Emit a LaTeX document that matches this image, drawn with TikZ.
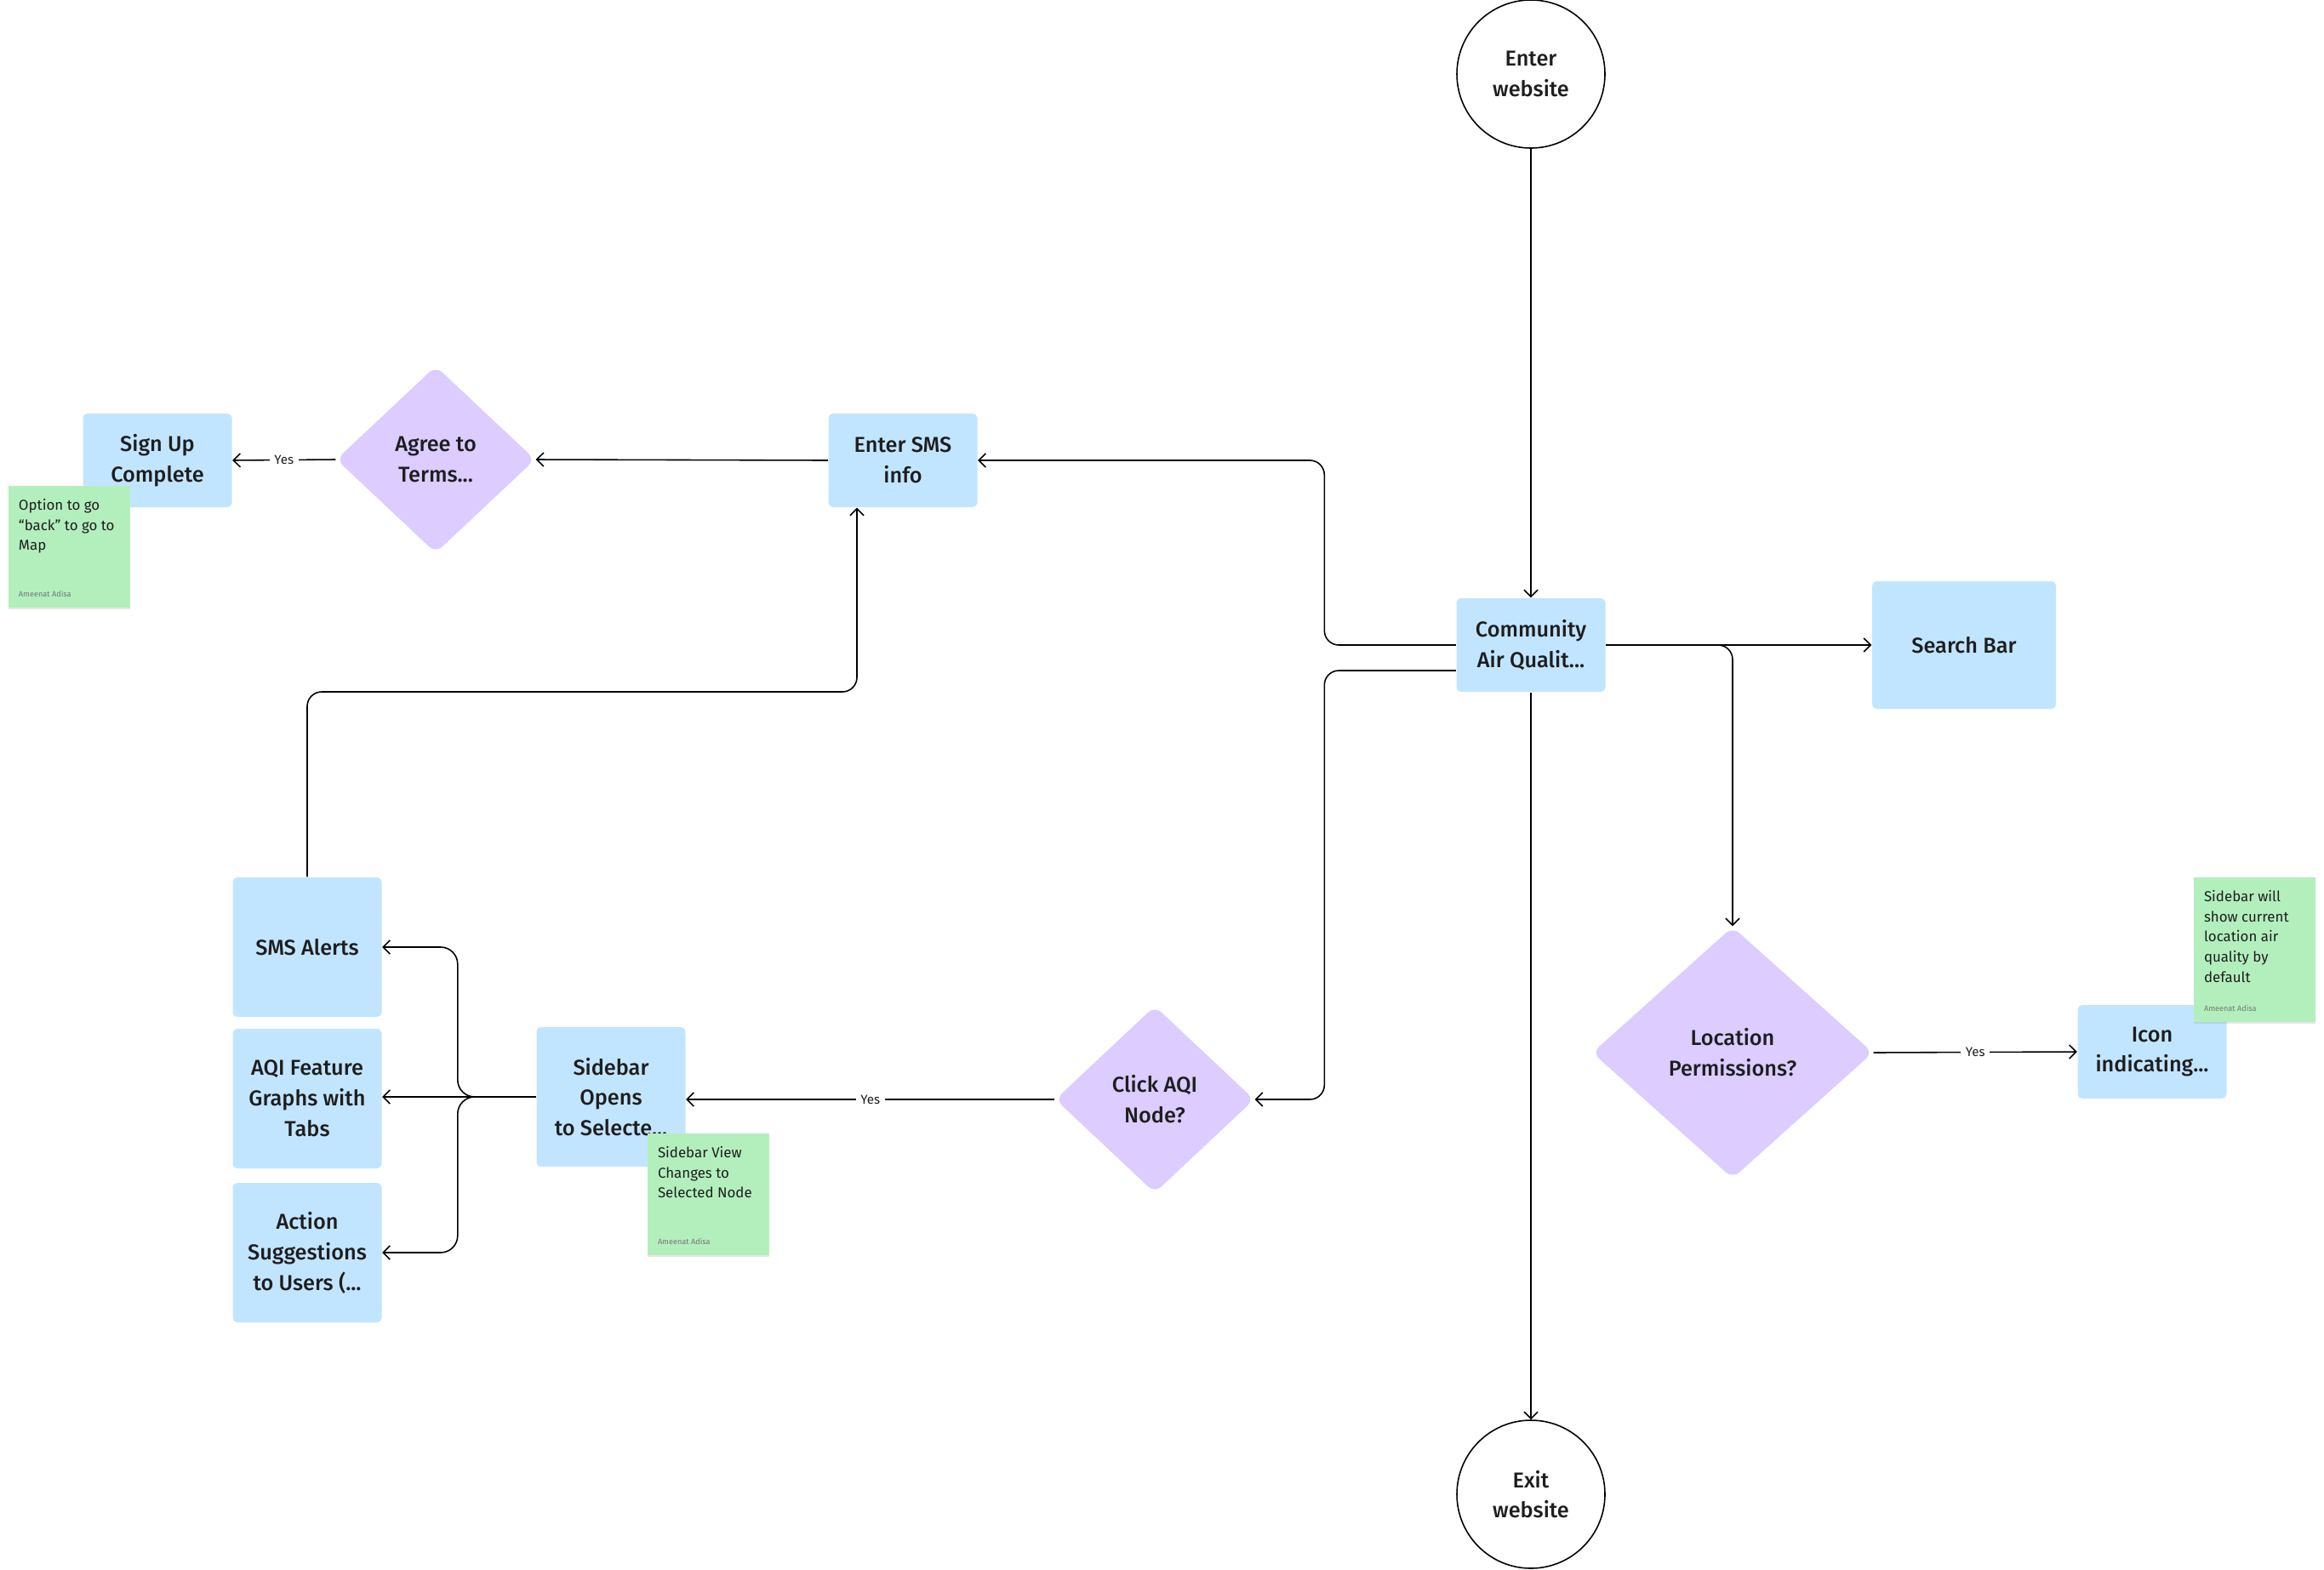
\documentclass[tikz,border=0pt]{standalone}
\usepackage{fontspec}
\setmainfont{Fira Sans}[BoldFont={Fira Sans Medium}]
\usetikzlibrary{shapes.geometric, arrows.meta, positioning, shadows}

\definecolor{boxblue}{HTML}{C2E5FF}
\definecolor{decpurple}{HTML}{DCCCFF}
\definecolor{stickygreen}{HTML}{B3EFBD}
\definecolor{inktext}{HTML}{1E1E1E}
\definecolor{authorgrey}{HTML}{757575}

\newcommand{\flowfont}{\fontsize{7.2}{10.2}\selectfont\bfseries}
\newcommand{\notefont}{\fontsize{4.8}{6.8}\selectfont}
\newcommand{\notebyfont}{\fontsize{2.6}{3}\selectfont}
\newcommand{\yesfont}{\fontsize{4.3}{5}\selectfont}

\tikzset{
	screen/.style={rectangle, rounded corners=1.5pt, fill=boxblue, inner sep=0pt,
		minimum width=1.75cm, minimum height=1.10cm, align=center, font=\flowfont, text=inktext},
	decision/.style={diamond, rounded corners=3pt, fill=decpurple, inner sep=0pt,
		align=center, font=\flowfont, text=inktext},
	terminal/.style={circle, draw=black, line width=0.45pt, fill=white, minimum size=1.74cm,
		inner sep=0pt, align=center, font=\flowfont, text=inktext},
	sticky/.style={rectangle, fill=stickygreen, inner sep=0pt, minimum width=1.43cm,
		minimum height=1.43cm, drop shadow={shadow xshift=0pt, shadow yshift=-0.7pt, opacity=0.2}},
	stickytext/.style={anchor=north west, inner sep=0pt, align=left, font=\notefont, text=inktext},
	stickyby/.style={anchor=base west, inner sep=0pt, font=\notebyfont, text=authorgrey},
	conn/.style={line width=0.45pt, -{Straight Barb[length=0.8mm, width=1.6mm]}},
	yeslabel/.style={midway, fill=white, inner sep=1.6pt, font=\yesfont, text=inktext}
}

\begin{document}
\begin{tikzpicture}
		\useasboundingbox (0,0) rectangle (27.31,-18.44);

		% Start / end
		\node[terminal] (enterweb) at (17.99,-0.87) {Enter\\website};
		\node[terminal] (exitweb) at (17.99,-17.56) {Exit\\website};

		% Screens
		\node[screen] (community) at (17.99,-7.58) {Community\\Air Qualit...};
		\node[screen, minimum width=2.16cm, minimum height=1.50cm] (searchbar) at (23.08,-7.58) {Search Bar};
		\node[screen] (entersms) at (10.61,-5.41) {Enter SMS\\info};
		\node[screen] (signup) at (1.85,-5.41) {Sign Up\\Complete};
		\node[screen, minimum height=1.64cm] (smsalerts) at (3.61,-11.13) {SMS Alerts};
		\node[screen, minimum height=1.64cm] (aqigraphs) at (3.61,-12.91) {AQI Feature\\Graphs with\\Tabs};
		\node[screen, minimum height=1.64cm] (actions) at (3.61,-14.72) {Action\\Suggestions\\to Users (...};
		\node[screen, minimum height=1.64cm] (sidebar) at (7.18,-12.89) {Sidebar\\Opens\\to Selecte...};
		\node[screen] (iconind) at (25.29,-12.36) {Icon\\indicating...};

		% Decisions
		\node[decision, minimum width=2.34cm, minimum height=2.20cm] (agreeterms) at (5.12,-5.40) {Agree to\\Terms...};
		\node[decision, minimum width=2.34cm, minimum height=2.20cm] (clickaqi) at (13.57,-12.92) {Click AQI\\Node?};
		\node[decision, minimum width=3.30cm, minimum height=2.96cm] (locperm) at (20.36,-12.37) {Location\\Permissions?};

		% Connectors
		\draw[conn] (enterweb) -- (community);
		\draw[conn] (community) -- (exitweb);
		\draw[conn] (community.east) -- (searchbar.west);
		\draw[conn, rounded corners=0.17cm] (community.east) -| (locperm.north);
		\draw[conn, rounded corners=0.17cm] (community.west) -- ++(-1.545,0) |- (entersms.east);
		\draw[conn, rounded corners=0.17cm] ([yshift=-0.30cm]community.west) -- ++(-1.545,0) |- (clickaqi.east);
		\draw[conn] (entersms.west) -- (agreeterms.east);
		\draw[conn] (agreeterms.west) -- (signup.east) node[yeslabel] (yessignup) {Yes};
		\draw[conn] (clickaqi.west) -- (clickaqi.west -| sidebar.east) node[yeslabel] (yessidebar) {Yes};
		\draw[conn] (locperm.east) -- (iconind.west) node[yeslabel] (yesicon) {Yes};
		\draw[conn, rounded corners=0.2cm] (sidebar.west) -- ++(-0.92,0) |- (smsalerts.east);
		\draw[conn] (sidebar.west) -- (sidebar.west -| aqigraphs.east);
		\draw[conn, rounded corners=0.2cm] (sidebar.west) -- ++(-0.92,0) |- (actions.east);
		\draw[conn, rounded corners=0.17cm] (smsalerts.north) |- (10.07,-8.13) -- ([xshift=-0.54cm]entersms.south);

		% Sticky notes
		\node[sticky] (notemap) at (0.815,-6.425) {};
		\node[stickytext] (notemaptext) at ([xshift=0.12cm, yshift=-0.15cm]notemap.north west) {Option to go\\“back” to go to\\Map};
		\node[stickyby] (notemapby) at ([xshift=0.12cm, yshift=0.13cm]notemap.south west) {Ameenat Adisa};

		\node[sticky] (noteselect) at (8.325,-14.035) {};
		\node[stickytext] (noteselecttext) at ([xshift=0.12cm, yshift=-0.15cm]noteselect.north west) {Sidebar View\\Changes to\\Selected Node};
		\node[stickyby] (noteselectby) at ([xshift=0.12cm, yshift=0.13cm]noteselect.south west) {Ameenat Adisa};

		\node[sticky, minimum height=1.70cm] (notedefault) at (26.495,-11.16) {};
		\node[stickytext] (notedefaulttext) at ([xshift=0.12cm, yshift=-0.15cm]notedefault.north west) {Sidebar will\\show current\\location air\\quality by\\default};
		\node[stickyby] (notedefaultby) at ([xshift=0.12cm, yshift=0.13cm]notedefault.south west) {Ameenat Adisa};
	\end{tikzpicture}
\end{document}
